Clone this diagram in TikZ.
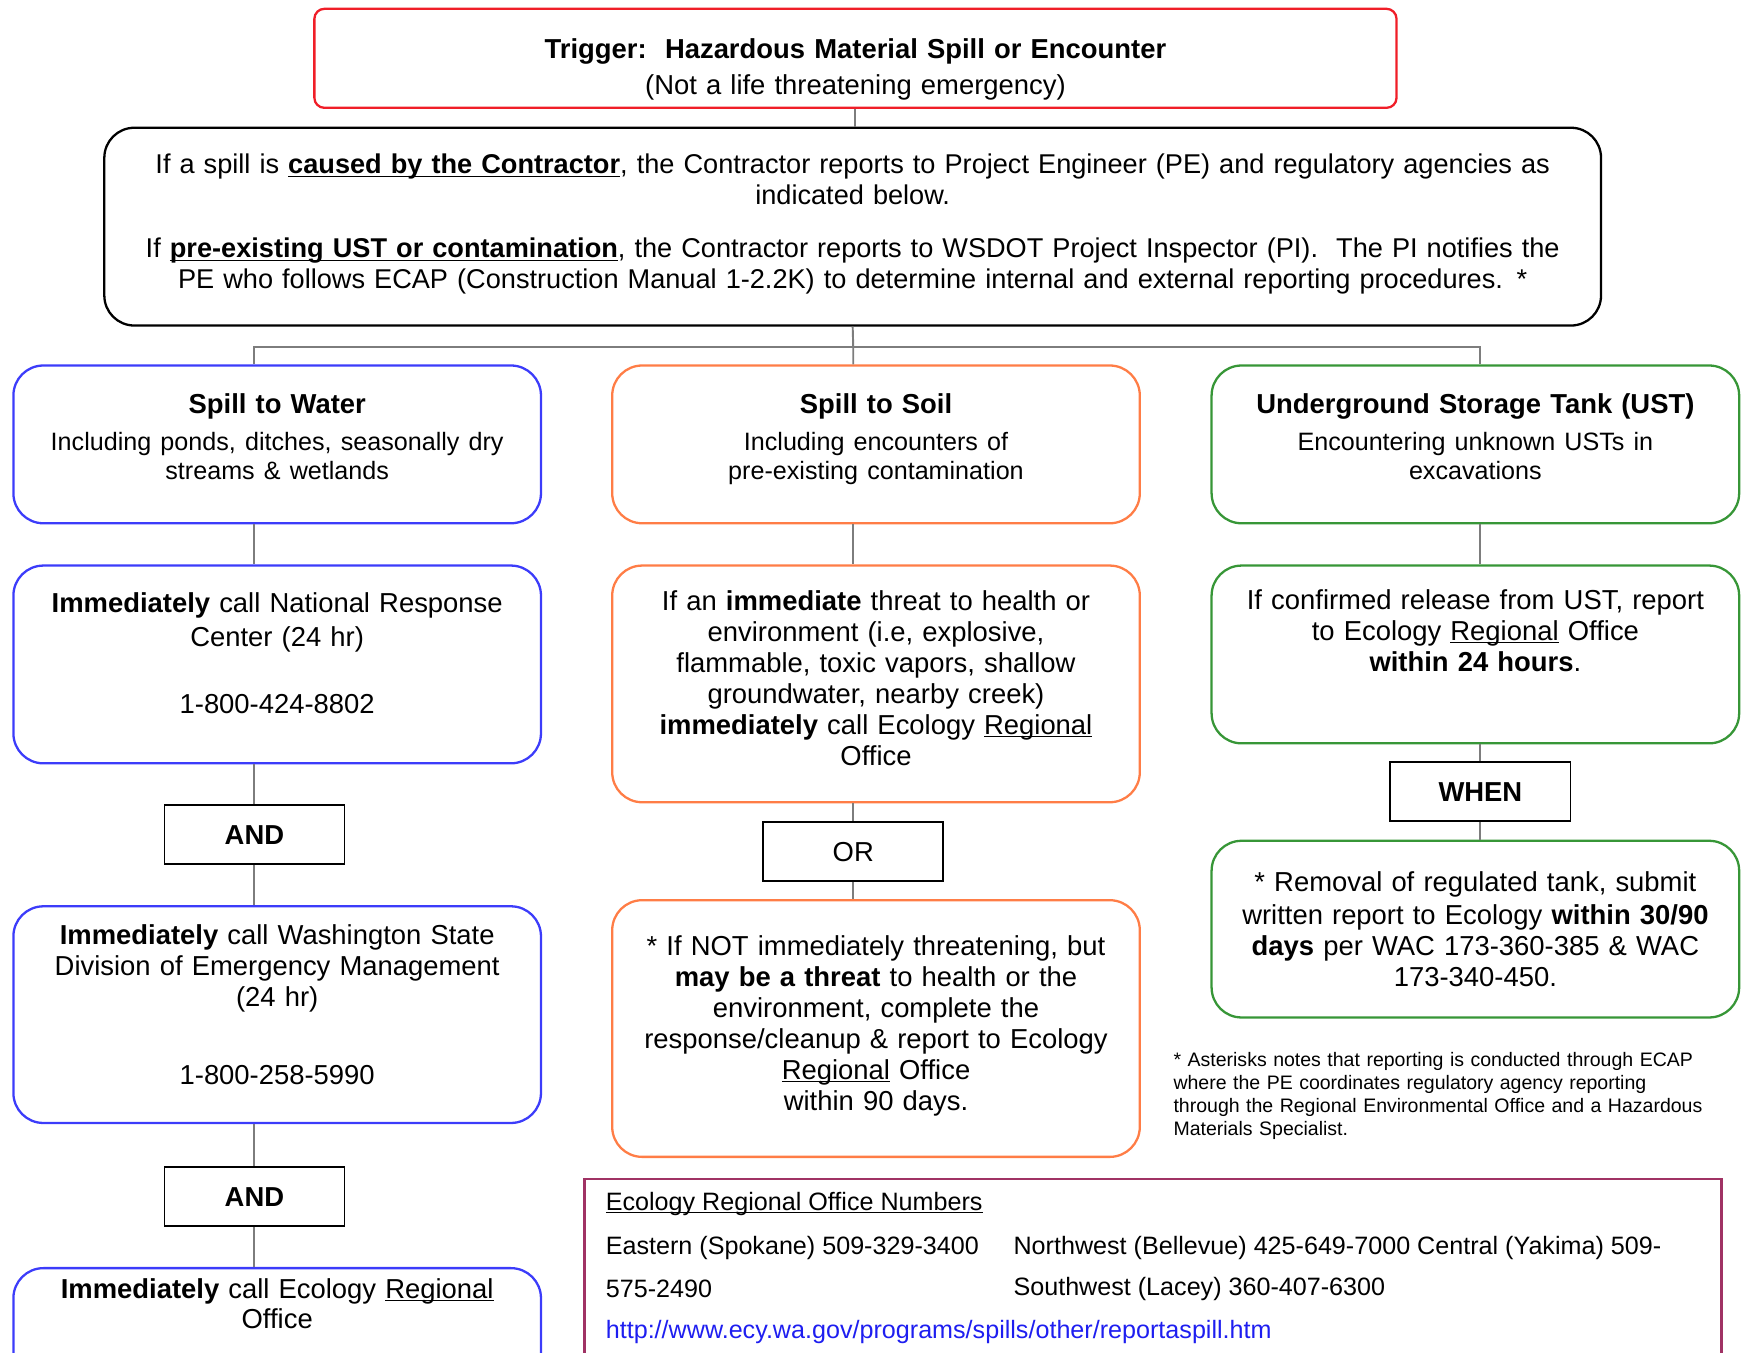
\documentclass[tikz,border=0pt]{standalone}
\usepackage{fontspec}
\setmainfont{Liberation Sans}
\usepackage{tikz}
\usetikzlibrary{positioning}

\definecolor{trigred}{RGB}{240,30,40}
\definecolor{waterblue}{RGB}{60,60,250}
\definecolor{soilorange}{RGB}{255,125,70}
\definecolor{tankgreen}{RGB}{55,150,55}
\definecolor{regmaroon}{RGB}{160,50,100}
\definecolor{linkgray}{RGB}{125,125,125}
\definecolor{urlblue}{RGB}{30,30,240}

\newcommand{\bodysize}{\fontsize{15.6}{17.6}\selectfont}
\newcommand{\subsize}{\fontsize{14.3}{16.4}\selectfont}
\newcommand{\regsize}{\fontsize{14.3}{17}\selectfont}
\newcommand{\undl}[1]{\underline{\smash{#1}}}

\begin{document}
\begin{tikzpicture}[x=0.02222cm, y=-0.02222cm, node distance=0.8cm,
    box/.style={draw, line width=1.3pt, rounded corners=0.6cm, align=center, text width=10.1cm, minimum width=10.55cm, inner sep=0.2cm, font=\bodysize},
    water/.style={box, draw=waterblue},
    soil/.style={box, draw=soilorange},
    tank/.style={box, draw=tankgreen},
    logic/.style={draw, line width=1pt, minimum width=3.6cm, minimum height=1.178cm, inner sep=0pt, font=\bodysize},
    regtext/.style={anchor=west, inner sep=0pt, font=\regsize},
    link/.style={draw=linkgray, line width=1.1pt}]
    \useasboundingbox (0,0) rectangle (1568,1217);
    \clip (0,0) rectangle (1568,1217);

    % Trigger and reporting
    \node [draw=trigred, line width=1.3pt, rounded corners=0.2cm, minimum width=21.64cm, minimum height=1.98cm, text width=21cm, align=center, font=\bodysize] (trig) at (770,52.5) {\mbox{}\\[6.5pt]\textbf{Trigger:\ \ Hazardous Material Spill or Encounter}\\[3.2pt](Not a life threatening emergency)};
    \node [draw, line width=1.3pt, rounded corners=0.6cm, minimum width=29.93cm, minimum height=3.955cm, text width=29.3cm, align=center, font=\fontsize{15.45}{17.6}\selectfont] (main) at (767.5,204) {If a spill is \undl{\textbf{caused by the Contractor}}, the Contractor reports to Project Engineer (PE) and regulatory agencies as\\ indicated below.\\[12.6pt] If \undl{\textbf{pre-existing UST or contamination}}, the Contractor reports to WSDOT Project Inspector (PI).\ \ The PI notifies the\\ PE who follows ECAP (Construction Manual 1-2.2K) to determine internal and external reporting procedures. *\\[-11.6pt]\mbox{}};

    % Spill to water
    \node [water, minimum height=3.155cm] (w1) at (249.5,400) {\textbf{Spill to Water}\\[4.4pt]\subsize Including ponds, ditches, seasonally dry\\ streams \& wetlands\\[-8.8pt]\mbox{}};
    \node [water, minimum height=3.955cm, below=of w1] (w2) {\textbf{Immediately} call National Response\\[1.3pt] Center (24 hr)\\[20.8pt] 1-800-424-8802\\[-5pt]\mbox{}};
    \node [logic, below=of w2, xshift=-0.455cm] (and1) {\textbf{AND}};
    \node [water, minimum height=4.333cm, below=of and1, xshift=0.455cm] (w3) {\textbf{Immediately} call Washington State\\ Division of Emergency Management\\ (24 hr)\\[26.5pt] 1-800-258-5990\\[-6.3pt]\mbox{}};
    \node [logic, below=0.844cm of w3, xshift=-0.455cm] (and2) {\textbf{AND}};
    \node [water, minimum height=2.9cm, below=of and2, xshift=0.455cm] (w4) {\textbf{Immediately} call Ecology \undl{Regional}\\ Office\\[26.3pt]\mbox{}};

    % Spill to soil
    \node [soil, minimum height=3.155cm] (s1) at (788.5,400) {\textbf{Spill to Soil}\\[4.4pt]\subsize Including encounters of\\ pre-existing contamination\\[-8.8pt]\mbox{}};
    \node [soil, minimum height=4.733cm, below=of s1] (s2) {If an \textbf{immediate} threat to health or\\ environment (i.e, explosive,\\ flammable, toxic vapors, shallow\\ groundwater, nearby creek)\\ \textbf{immediately} call Ecology \undl{Regional}\\ Office\\[-10.6pt]\mbox{}};
    \node [logic, below=0.36cm of s2, xshift=-0.455cm] (or) {OR};
    \node [soil, minimum height=5.133cm, below=0.34cm of or, xshift=0.455cm] (s3) {* If NOT immediately threatening, but\\ \textbf{may be a threat} to health or the\\ environment, complete the\\ response/cleanup \& report to Ecology\\ \undl{Regional} Office\\ within 90 days.\\[-11pt]\mbox{}};

    % Underground storage tank
    \node [tank, minimum height=3.155cm] (u1) at (1328,400) {\textbf{Underground Storage Tank (UST)}\\[4.4pt]\subsize Encountering unknown USTs in\\ excavations\\[-8.8pt]\mbox{}};
    \node [tank, minimum height=3.555cm, below=of u1] (u2) {If confirmed release from UST, report\\ to Ecology \undl{Regional} Office\\ \textbf{within 24 hours}.\\[10pt]\mbox{}};
    \node [logic, below=0.34cm of u2, xshift=0.1cm] (when) {\textbf{WHEN}};
    \node [tank, minimum height=3.533cm, below=0.35cm of when, xshift=-0.1cm] (u3) {* Removal of regulated tank, submit\\[1.3pt] written report to Ecology \textbf{within 30/90}\\ \textbf{days} per WAC 173-360-385 \& WAC\\ 173-340-450.};

    \node [anchor=north west, inner sep=0pt, text width=11.3cm, align=left, font=\fontsize{11.1}{13}\selectfont] (note) at (1056,947) {* Asterisks notes that reporting is conducted through ECAP\\ where the PE coordinates regulatory agency reporting\\ through the Regional Environmental Office and a Hazardous\\ Materials Specialist.};

    % Regional office numbers
    \node [draw=regmaroon, line width=1.5pt, anchor=north west, minimum width=22.73cm, minimum height=4.6cm] (reg) at (525,1060) {};
    \node [regtext] (reghead) at (545,1091) {\undl{Ecology Regional Office Numbers}};
    \node [regtext] (eastern) at (545,1123) {Eastern (Spokane) 509-329-3400};
    \node [regtext] (northwest) at (912,1123) {Northwest (Bellevue) 425-649-7000 Central (Yakima) 509-};
    \node [regtext] (easternb) at (545,1160) {575-2490};
    \node [regtext] (southwest) at (912,1160) {Southwest (Lacey) 360-407-6300};
    \node [regtext, text=urlblue] (url) at (545,1199) {http://www.ecy.wa.gov/programs/spills/other/reportaspill.htm};

    % Connections
    \coordinate (bus) at (768,312);
    \draw [link] (trig.south) -- (trig.south |- main.north);
    \draw [link] (main.south) -- (bus);
    \draw [link] (and1 |- w1.north) |- (bus) -| (when |- u1.north);
    \draw [link] (bus) -- (or |- s1.north);

    \draw [link] (and1 |- w1.south) -- (and1 |- w2.north);
    \draw [link] (and1 |- w2.south) -- (and1.north);
    \draw [link] (and1.south) -- (and1 |- w3.north);
    \draw [link] (and2 |- w3.south) -- (and2.north);
    \draw [link] (and2.south) -- (and2 |- w4.north);

    \draw [link] (or |- s1.south) -- (or |- s2.north);
    \draw [link] (or |- s2.south) -- (or.north);
    \draw [link] (or.south) -- (or |- s3.north);

    \draw [link] (when |- u1.south) -- (when |- u2.north);
    \draw [link] (when |- u2.south) -- (when.north);
    \draw [link] (when.south) -- (when |- u3.north);

\end{tikzpicture}
\end{document}
